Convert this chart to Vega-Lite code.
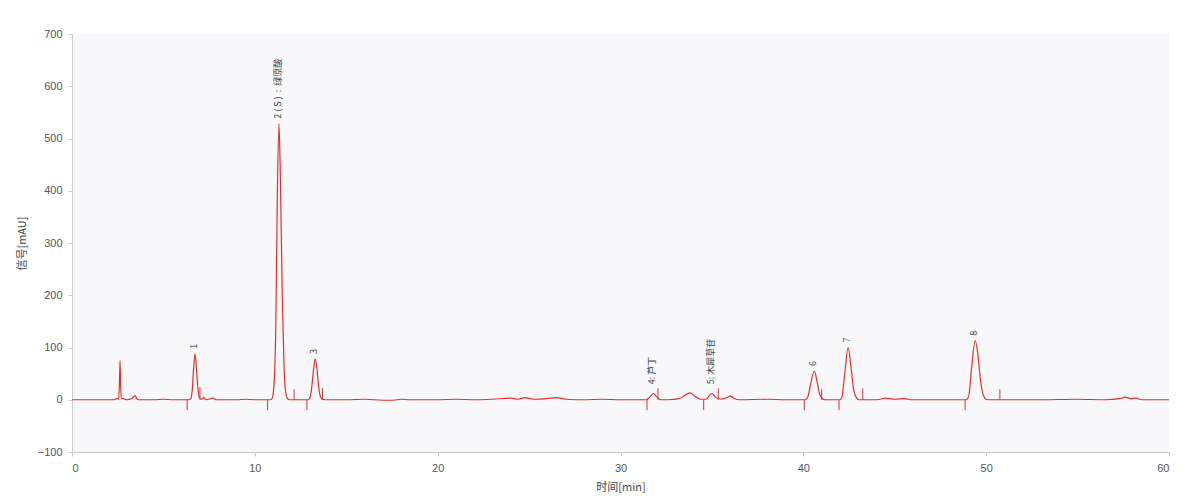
{
  "$schema": "https://vega.github.io/schema/vega-lite/v6.json",
  "width": 1097,
  "height": 418,
  "autosize": {"type": "none"},
  "padding": {"left": 72, "top": 34, "right": 19, "bottom": 52},
  "background": "white",
  "config": {
    "view": {"fill": "#f8f8fb", "stroke": null},
    "font": "Liberation Sans",
    "axis": {
      "domainColor": "#cccccc",
      "tickColor": "#cccccc",
      "labelColor": "#555555",
      "labelFontSize": 11,
      "titleColor": "#444444",
      "titleFontSize": 11,
      "titleFontWeight": "normal",
      "titleFont": "Noto Sans CJK SC",
      "grid": false
    }
  },
  "datasets": {
    "signal": [
      {"t": 0, "s": 0}, {"t": 2.3, "s": 0}, {"t": 2.45, "s": 2}, {"t": 2.55, "s": 1}, {"t": 2.6, "s": 40}, {"t": 2.63, "s": 75}, {"t": 2.66, "s": 30}, {"t": 2.7, "s": 3}, {"t": 2.8, "s": 2}, {"t": 3.0, "s": 0},
      {"t": 3.3, "s": 3}, {"t": 3.45, "s": 8}, {"t": 3.55, "s": 2}, {"t": 3.65, "s": 0}, {"t": 4.5, "s": 0}, {"t": 5, "s": 1}, {"t": 5.5, "s": 0}, {"t": 6.4, "s": 0},
      {"t": 6.5, "s": 2}, {"t": 6.58, "s": 20}, {"t": 6.65, "s": 60}, {"t": 6.73, "s": 88}, {"t": 6.8, "s": 62}, {"t": 6.88, "s": 25}, {"t": 6.95, "s": 6}, {"t": 7.05, "s": 1}, {"t": 7.2, "s": 4}, {"t": 7.35, "s": 0},
      {"t": 7.7, "s": 3}, {"t": 7.9, "s": 0}, {"t": 9, "s": 0}, {"t": 9.5, "s": 1}, {"t": 10.0, "s": 0}, {"t": 10.85, "s": 0},
      {"t": 10.95, "s": 3}, {"t": 11.05, "s": 30}, {"t": 11.15, "s": 150}, {"t": 11.23, "s": 390}, {"t": 11.32, "s": 528}, {"t": 11.4, "s": 420}, {"t": 11.5, "s": 200}, {"t": 11.6, "s": 60}, {"t": 11.7, "s": 12}, {"t": 11.8, "s": 2}, {"t": 11.95, "s": 0},
      {"t": 12.9, "s": 0}, {"t": 13.0, "s": 3}, {"t": 13.1, "s": 20}, {"t": 13.2, "s": 55}, {"t": 13.3, "s": 78}, {"t": 13.4, "s": 58}, {"t": 13.5, "s": 22}, {"t": 13.6, "s": 5}, {"t": 13.7, "s": 1}, {"t": 13.85, "s": 0},
      {"t": 15, "s": 0}, {"t": 16, "s": 1}, {"t": 16.5, "s": 0}, {"t": 17.5, "s": -1}, {"t": 18, "s": 1}, {"t": 18.5, "s": 0}, {"t": 20, "s": 0}, {"t": 21, "s": 1}, {"t": 22, "s": 0}, {"t": 23, "s": 1},
      {"t": 24, "s": 3}, {"t": 24.4, "s": 1}, {"t": 24.8, "s": 4}, {"t": 25.2, "s": 1}, {"t": 26, "s": 2}, {"t": 26.5, "s": 4}, {"t": 27, "s": 1}, {"t": 28, "s": 0}, {"t": 29, "s": 1}, {"t": 30, "s": 0},
      {"t": 31.4, "s": 0}, {"t": 31.6, "s": 5}, {"t": 31.8, "s": 12}, {"t": 32.0, "s": 5}, {"t": 32.2, "s": 0}, {"t": 32.6, "s": 0}, {"t": 33.2, "s": 2}, {"t": 33.5, "s": 8}, {"t": 33.8, "s": 13}, {"t": 34.1, "s": 6}, {"t": 34.4, "s": 1},
      {"t": 34.7, "s": 1}, {"t": 34.85, "s": 8}, {"t": 35.0, "s": 12}, {"t": 35.2, "s": 5}, {"t": 35.5, "s": 1}, {"t": 35.8, "s": 4}, {"t": 36.0, "s": 7}, {"t": 36.2, "s": 3}, {"t": 36.5, "s": 0}, {"t": 38, "s": 1}, {"t": 39, "s": 0},
      {"t": 40.1, "s": 0}, {"t": 40.25, "s": 6}, {"t": 40.4, "s": 30}, {"t": 40.6, "s": 55}, {"t": 40.75, "s": 35}, {"t": 40.9, "s": 10}, {"t": 41.05, "s": 2}, {"t": 41.2, "s": 0},
      {"t": 42.0, "s": 0}, {"t": 42.1, "s": 4}, {"t": 42.25, "s": 45}, {"t": 42.45, "s": 100}, {"t": 42.6, "s": 65}, {"t": 42.75, "s": 20}, {"t": 42.9, "s": 4}, {"t": 43.05, "s": 0},
      {"t": 44, "s": 0}, {"t": 44.5, "s": 3}, {"t": 45, "s": 1}, {"t": 45.5, "s": 2}, {"t": 46, "s": 0}, {"t": 48, "s": 0},
      {"t": 48.9, "s": 0}, {"t": 49.05, "s": 8}, {"t": 49.2, "s": 60}, {"t": 49.4, "s": 113}, {"t": 49.55, "s": 85}, {"t": 49.7, "s": 35}, {"t": 49.85, "s": 8}, {"t": 50.0, "s": 1}, {"t": 50.2, "s": 0},
      {"t": 53, "s": 0}, {"t": 55, "s": 1}, {"t": 56.5, "s": 0}, {"t": 57.3, "s": 2}, {"t": 57.6, "s": 5}, {"t": 57.9, "s": 2}, {"t": 58.2, "s": 3}, {"t": 58.5, "s": 0}, {"t": 60, "s": 0}
    ],
    "markers": [
      {"t": 6.3, "lo": -20, "hi": 0}, {"t": 10.7, "lo": -20, "hi": 0}, {"t": 12.85, "lo": -20, "hi": 0}, {"t": 31.45, "lo": -20, "hi": 0},
      {"t": 34.55, "lo": -20, "hi": 0}, {"t": 40.05, "lo": -20, "hi": 0}, {"t": 41.95, "lo": -20, "hi": 0}, {"t": 48.85, "lo": -20, "hi": 0},
      {"t": 7.0, "lo": 0, "hi": 24}, {"t": 12.15, "lo": 0, "hi": 20}, {"t": 13.7, "lo": 0, "hi": 22}, {"t": 32.05, "lo": 0, "hi": 22},
      {"t": 35.35, "lo": 0, "hi": 22}, {"t": 41.0, "lo": 0, "hi": 20}, {"t": 43.25, "lo": 0, "hi": 22}, {"t": 50.75, "lo": 0, "hi": 20}
    ],
    "labels": [
      {"t": 6.65, "s": 88, "label": "1"},
      {"t": 11.25, "s": 528, "label": "2\u00a0(\u00a0S\u00a0)\u00a0\u00a0:\u00a0\u00a0绿原酸"},
      {"t": 13.25, "s": 78, "label": "3"},
      {"t": 31.75, "s": 20, "label": "4: 芦丁"},
      {"t": 34.95, "s": 20, "label": "5: 木犀草苷"},
      {"t": 40.55, "s": 55, "label": "6"},
      {"t": 42.4, "s": 100, "label": "7"},
      {"t": 49.35, "s": 113, "label": "8"}
    ]
  },
  "layer": [
    {
      "data": {"name": "markers"},
      "mark": {"type": "rule", "color": "#c83838", "strokeWidth": 1},
      "encoding": {
        "x": {"field": "t", "type": "quantitative", "scale": {"domain": [0, 60]}},
        "y": {"field": "lo", "type": "quantitative", "scale": {"domain": [-100, 700]}},
        "y2": {"field": "hi"}
      }
    },
    {
      "data": {"name": "signal"},
      "mark": {"type": "line", "color": "#e0302e", "strokeWidth": 1.2, "interpolate": "monotone"},
      "encoding": {
        "x": {"field": "t", "type": "quantitative", "scale": {"domain": [0, 60], "nice": false},
          "axis": {"title": "时间[min]", "values": [0, 10, 20, 30, 40, 50, 60], "labelPadding": 6, "titlePadding": 8, "tickSize": 4}},
        "y": {"field": "s", "type": "quantitative", "scale": {"domain": [-100, 700], "nice": false},
          "axis": {"title": "信号[mAU]", "values": [-100, 0, 100, 200, 300, 400, 500, 600, 700], "labelPadding": 6, "titlePadding": 10, "tickSize": 4}}
      }
    },
    {
      "data": {"name": "labels"},
      "mark": {"type": "text", "angle": 270, "align": "left", "baseline": "middle", "dx": 5, "fontSize": 9, "color": "#444444", "font": "Noto Sans CJK SC"},
      "encoding": {
        "x": {"field": "t", "type": "quantitative"},
        "y": {"field": "s", "type": "quantitative"},
        "text": {"field": "label"}
      }
    }
  ]
}
